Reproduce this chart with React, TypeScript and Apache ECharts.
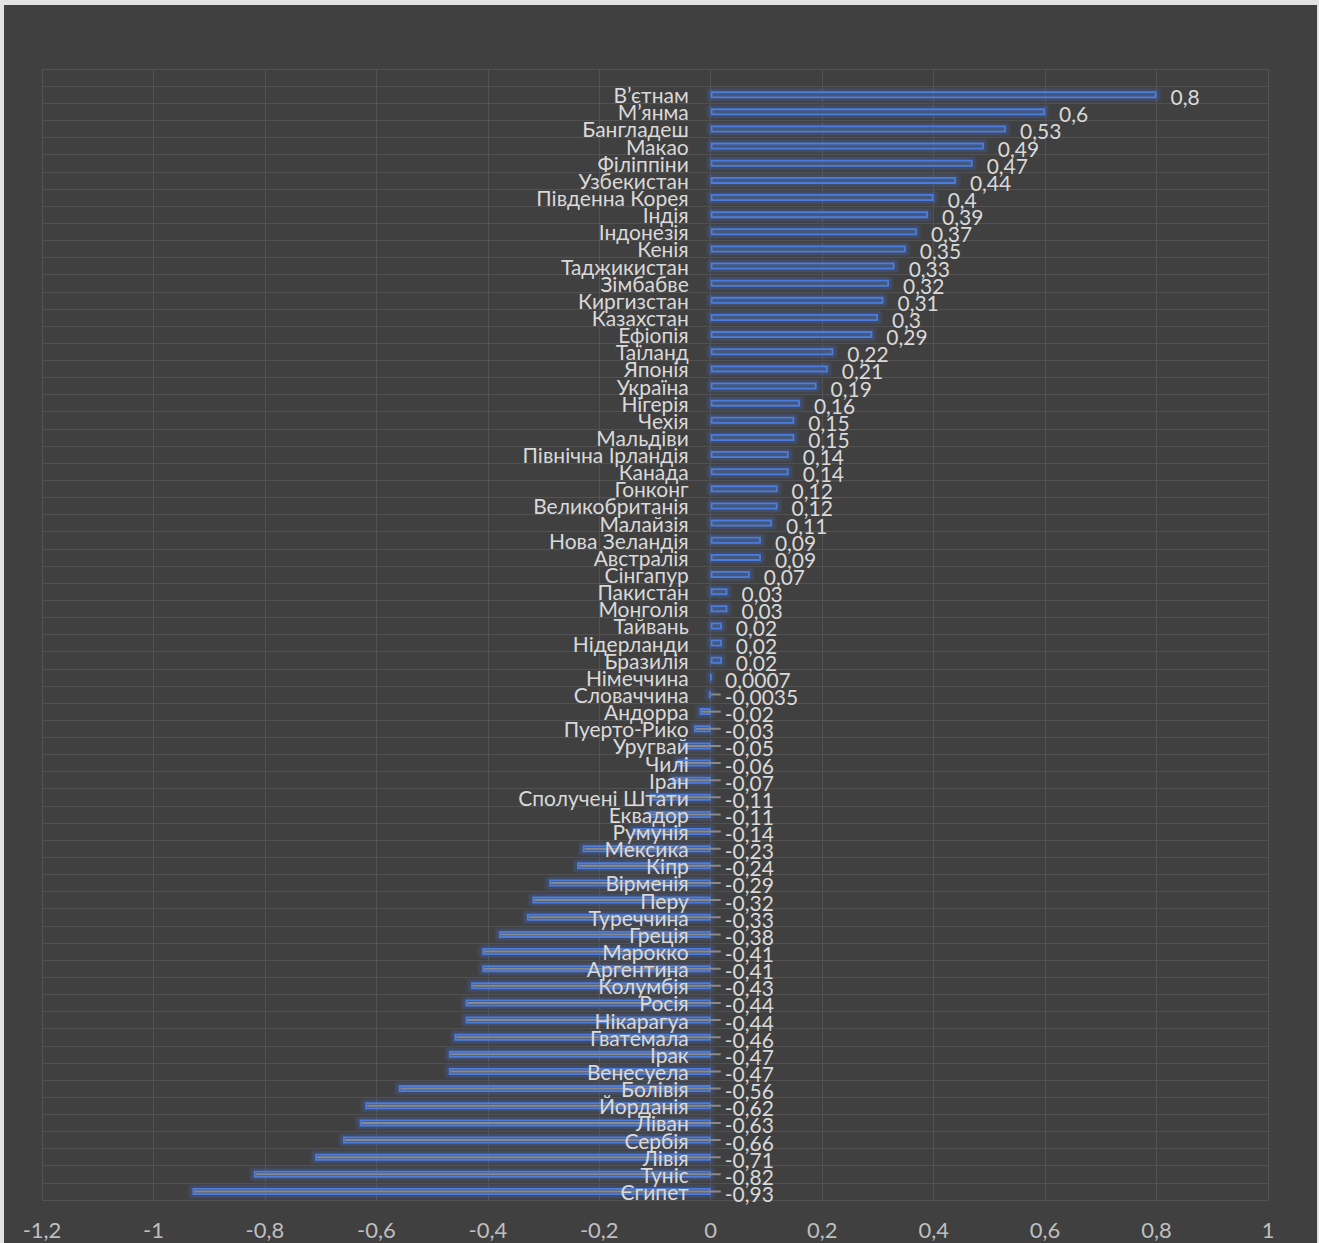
import React, { useEffect, useRef } from "react";
import * as echarts from "echarts";

const categories: string[] = [
  "",
  "В’єтнам", "М’янма", "Бангладеш", "Макао", "Філіппіни", "Узбекистан", "Південна Корея",
  "Індія", "Індонезія", "Кенія", "Таджикистан", "Зімбабве", "Киргизстан", "Казахстан",
  "Ефіопія", "Таїланд", "Японія", "Україна", "Нігерія", "Чехія", "Мальдіви",
  "Північна Ірландія", "Канада", "Гонконг", "Великобританія", "Малайзія", "Нова Зеландія",
  "Австралія", "Сінгапур", "Пакистан", "Монголія", "Тайвань", "Нідерланди", "Бразилія",
  "Німеччина", "Словаччина", "Андорра", "Пуерто-Рико", "Уругвай", "Чилі", "Іран",
  "Сполучені Штати", "Еквадор", "Румунія", "Мексика", "Кіпр", "Вірменія", "Перу",
  "Туреччина", "Греція", "Марокко", "Аргентина", "Колумбія", "Росія", "Нікарагуа",
  "Гватемала", "Ірак", "Венесуела", "Болівія", "Йорданія", "Ліван", "Сербія", "Лівія",
  "Туніс", "Єгипет",
];

const values: (number | null)[] = [
  null,
  0.8, 0.6, 0.53, 0.49, 0.47, 0.44, 0.4,
  0.39, 0.37, 0.35, 0.33, 0.32, 0.31, 0.3,
  0.29, 0.22, 0.21, 0.19, 0.16, 0.15, 0.15,
  0.14, 0.14, 0.12, 0.12, 0.11, 0.09,
  0.09, 0.07, 0.03, 0.03, 0.02, 0.02, 0.02,
  0.0007, -0.0035, -0.02, -0.03, -0.05, -0.06, -0.07,
  -0.11, -0.11, -0.14, -0.23, -0.24, -0.29, -0.32,
  -0.33, -0.38, -0.41, -0.41, -0.43, -0.44, -0.44,
  -0.46, -0.47, -0.47, -0.56, -0.62, -0.63, -0.66, -0.71,
  -0.82, -0.93,
];

const xMin = -1.2;
const xMax = 1;
const xStep = 0.2;

const FONT = "Lato, 'Noto Sans', sans-serif";
const fmt = (v: number) => String(v).replace(".", ",");

export default function App() {
  const ref = useRef<HTMLDivElement>(null);

  useEffect(() => {
    if (!ref.current) return;
    const chart = echarts.init(ref.current, undefined, { renderer: "svg" });

    const pointData = values
      .map((v, i) => (v === null ? null : [v, i]))
      .filter((d) => d !== null) as number[][];

    chart.setOption({
      animation: false,
      backgroundColor: "#404040",
      grid: { left: 38, right: 49, top: 64, bottom: 43, containLabel: false, outerBoundsMode: "none" },
      xAxis: {
        type: "value",
        min: xMin,
        max: xMax,
        interval: xStep,
        axisLine: { show: false },
        axisTick: { show: false },
        splitLine: { show: true, lineStyle: { color: "#525252", width: 1 } },
        axisLabel: {
          color: "#bfbfbf",
          fontSize: 22,
          fontFamily: FONT,
          margin: 18,
          formatter: (v: number) => fmt(Number(v.toFixed(1))),
        },
      },
      yAxis: {
        type: "category",
        data: categories,
        inverse: true,
        axisLine: { show: false },
        axisTick: { show: false },
        splitLine: { show: true, interval: 0, lineStyle: { color: "#525252", width: 1 } },
        axisLabel: { show: false },
      },
      series: [
        {
          // soft glow behind each bar
          type: "custom",
          data: pointData,
          encode: { x: 0, y: 1 },
          silent: true,
          z: 1,
          renderItem: (params: any, api: any) => {
            const v = api.value(0) as number;
            const idx = api.value(1) as number;
            const a = api.coord([v, idx]);
            const b = api.coord([0, idx]);
            const x = Math.min(a[0], b[0]);
            const w = Math.abs(a[0] - b[0]);
            return {
              type: "group",
              children: [
                { type: "rect", shape: { x: x - 5, y: a[1] - 7.5, width: w + 10, height: 15, r: 4 }, style: { fill: "rgba(70,110,200,0.12)" } },
                { type: "rect", shape: { x: x - 3, y: a[1] - 6, width: w + 6, height: 12, r: 3 }, style: { fill: "rgba(70,110,200,0.18)" } },
              ],
            };
          },
        },
        {
          type: "bar",
          data: values,
          barWidth: 7,
          z: 2,
          itemStyle: {
            color: "rgba(70,92,135,0.7)",
            borderColor: "#4b7de0",
            borderWidth: 1.8,
          },
        },
        {
          type: "custom",
          data: pointData,
          encode: { x: 0, y: 1 },
          silent: true,
          z: 3,
          renderItem: (params: any, api: any) => {
            const v = api.value(0) as number;
            const idx = api.value(1) as number;
            const end = api.coord([Math.max(v, 0), idx]);
            const zero = api.coord([0, idx]);
            const children: any[] = [];
            if (v < 0) {
              const start = api.coord([v, idx]);
              children.push({
                type: "line",
                shape: { x1: start[0] + 2, y1: start[1], x2: zero[0] + 10, y2: start[1] },
                style: { stroke: "#8a8a8a", lineWidth: 2 },
              });
            }
            children.push({
              type: "text",
              x: zero[0] - 22,
              y: zero[1],
              style: {
                text: categories[idx],
                fill: "#d9d9d9",
                font: `21px ${FONT}`,
                align: "right",
                verticalAlign: "middle",
                textAlign: "right",
                textVerticalAlign: "middle",
              },
            });
            children.push({
              type: "text",
              x: end[0] + 14,
              y: end[1] + 2,
              style: {
                text: fmt(v),
                fill: "#d9d9d9",
                font: `21px ${FONT}`,
                align: "left",
                verticalAlign: "middle",
                textAlign: "left",
                textVerticalAlign: "middle",
              },
            });
            return { type: "group", children };
          },
        },
      ],
    });

    return () => chart.dispose();
  }, []);

  return (
    <div style={{ position: "absolute", left: 0, top: 0, width: 1319, height: 1243, background: "#e3e3e3", overflow: "hidden" }}>
      <div ref={ref} style={{ position: "absolute", left: 4, top: 5, width: 1313, height: 1238 }} />
    </div>
  );
}
